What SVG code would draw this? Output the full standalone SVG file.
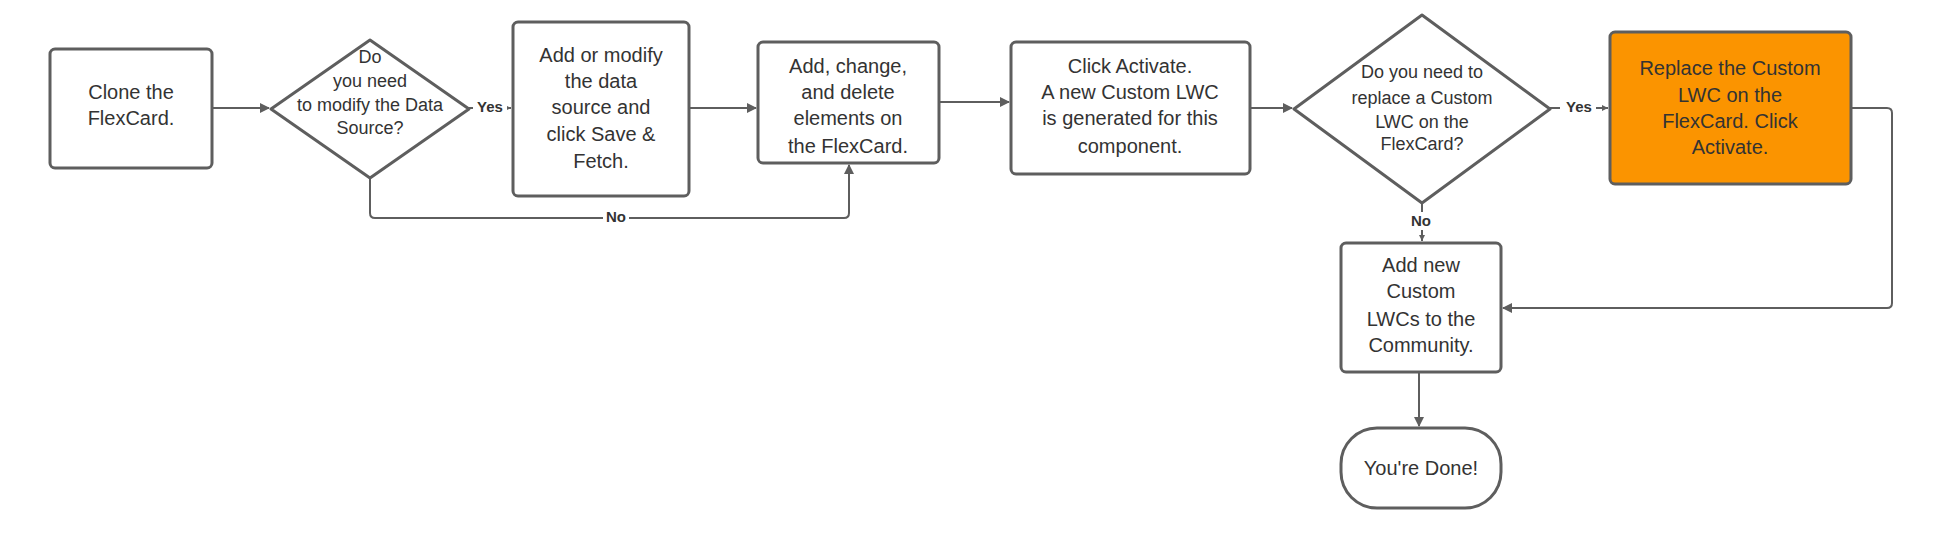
<svg xmlns="http://www.w3.org/2000/svg" width="1953" height="548" viewBox="0 0 1953 548">
<style>
.n{fill:#fff;stroke:#5e5e5e;stroke-width:3}
.o{fill:#fb9400;stroke:#5e5e5e;stroke-width:3}
text{font-family:"Liberation Sans",Arial,sans-serif;fill:#333;text-anchor:middle}
.t{font-size:20px}
.s{font-size:18px}
.l{font-size:15px;font-weight:bold}
.c{fill:none;stroke:#5e5e5e;stroke-width:2}
</style>
<defs><marker id="a" markerWidth="10" markerHeight="10" refX="9" refY="5" orient="auto" markerUnits="userSpaceOnUse" viewBox="0 0 10 10"><path d="M0,0 L10,5 L0,10 z" fill="#5e5e5e"/></marker>
<marker id="sa" markerWidth="6" markerHeight="6" refX="6" refY="3" orient="auto" markerUnits="userSpaceOnUse" viewBox="0 0 6 6"><path d="M0,0 L6,3 L0,6 z" fill="#5e5e5e"/></marker></defs>
<rect width="1953" height="548" fill="#fff"/>
<g id="connectors">
<path class="c" d="M212,108 H269" marker-end="url(#a)"/>
<path class="c" d="M469,108 H511" marker-end="url(#sa)"/>
<path class="c" d="M689,108 H756" marker-end="url(#a)"/>
<path class="c" d="M939,102 H1009" marker-end="url(#a)"/>
<path class="c" d="M1250,108 H1292" marker-end="url(#a)"/>
<path class="c" d="M1550,108 H1608" marker-end="url(#sa)"/>
<path class="c" d="M370,178 V213 Q370,218 375,218 H844 Q849,218 849,213 V165" marker-end="url(#a)"/>
<path class="c" d="M1422,203 V241" marker-end="url(#sa)"/>
<path class="c" d="M1851,108 H1887 Q1892,108 1892,113 V303 Q1892,308 1887,308 H1503" marker-end="url(#a)"/>
<path class="c" d="M1419,372 V426" marker-end="url(#a)"/>
<rect x="473" y="98" width="34" height="18" fill="#fff"/><text class="l" x="490" y="112">Yes</text>
<rect x="1560" y="98" width="36" height="18" fill="#fff"/><text class="l" x="1579" y="112">Yes</text>
<rect x="603" y="208" width="26" height="18" fill="#fff"/><text class="l" x="616" y="222">No</text>
<rect x="1408" y="212" width="26" height="18" fill="#fff"/><text class="l" x="1421" y="226">No</text>
</g>
<g id="clone"><rect class="n" x="50" y="49" width="162" height="119" rx="5"/><text class="t" x="131" y="99">Clone the</text><text class="t" x="131" y="125">FlexCard.</text></g>
<g id="dec1"><path class="n" d="M370,40 L469,109 L370,178 L271,109 Z" stroke-linejoin="round"/><text class="s" x="370" y="63">Do</text><text class="s" x="370" y="87">you need</text><text class="s" x="370" y="111">to modify the Data</text><text class="s" x="370" y="134">Source?</text></g>
<g id="modify"><rect class="n" x="513" y="22" width="176" height="174" rx="5"/><text class="t" x="601" y="62">Add or modify</text><text class="t" x="601" y="88">the data</text><text class="t" x="601" y="114">source and</text><text class="t" x="601" y="141">click Save &amp;</text><text class="t" x="601" y="168">Fetch.</text></g>
<g id="change"><rect class="n" x="758" y="42" width="181" height="121" rx="5"/><text class="t" x="848" y="73">Add, change,</text><text class="t" x="848" y="99">and delete</text><text class="t" x="848" y="125">elements on</text><text class="t" x="848" y="153">the FlexCard.</text></g>
<g id="activate"><rect class="n" x="1011" y="42" width="239" height="132" rx="5"/><text class="t" x="1130" y="73">Click Activate.</text><text class="t" x="1130" y="99">A new Custom LWC</text><text class="t" x="1130" y="125">is generated for this</text><text class="t" x="1130" y="153">component.</text></g>
<g id="dec2"><path class="n" d="M1422,15 L1550,109 L1422,203 L1294,109 Z" stroke-linejoin="round"/><text class="s" x="1422" y="78">Do you need to</text><text class="s" x="1422" y="104">replace a Custom</text><text class="s" x="1422" y="128">LWC on the</text><text class="s" x="1422" y="150">FlexCard?</text></g>
<g id="replace"><rect class="o" x="1610" y="32" width="241" height="152" rx="5"/><text class="t" x="1730" y="75">Replace the Custom</text><text class="t" x="1730" y="102">LWC on the</text><text class="t" x="1730" y="128">FlexCard. Click</text><text class="t" x="1730" y="154">Activate.</text></g>
<g id="addnew"><rect class="n" x="1341" y="243" width="160" height="129" rx="5"/><text class="t" x="1421" y="272">Add new</text><text class="t" x="1421" y="298">Custom</text><text class="t" x="1421" y="326">LWCs to the</text><text class="t" x="1421" y="352">Community.</text></g>
<g id="done"><rect class="n" x="1341" y="428" width="160" height="80" rx="36"/><text class="t" x="1421" y="475">You're Done!</text></g>
</svg>
